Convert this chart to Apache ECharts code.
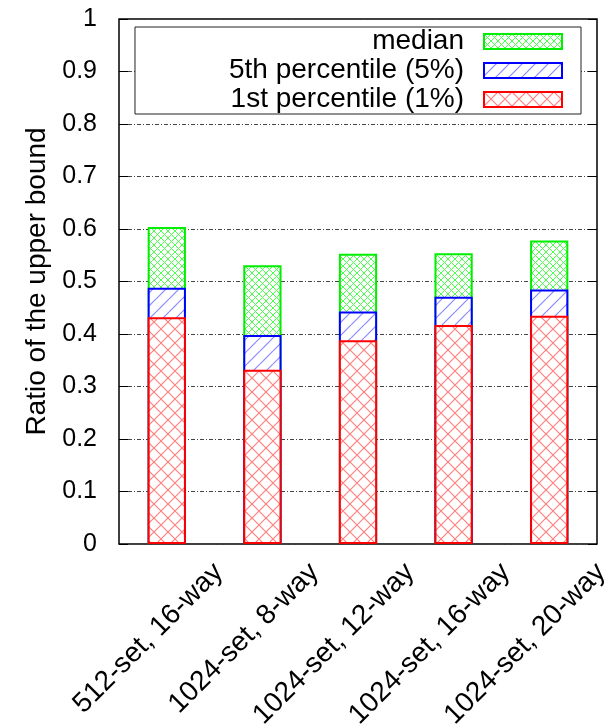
<!DOCTYPE html>
<html>
<head>
<meta charset="utf-8">
<script src="https://cdn.jsdelivr.net/npm/echarts@6/dist/echarts.min.js"></script>
<style>
  html, body { margin: 0; padding: 0; background: #fff; }
  #chart { width: 612px; height: 728px; }
</style>
</head>
<body>
<div id="chart"></div>
<script>
// Cache configurations on the x axis
const categories = ['512-set, 16-way', '1024-set, 8-way', '1024-set, 12-way', '1024-set, 16-way', '1024-set, 20-way'];
// Ratio of the upper bound at each statistic
const medianValues = [0.604, 0.531, 0.553, 0.554, 0.578];
const p5Values = [0.488, 0.398, 0.443, 0.471, 0.485];
const p1Values = [0.432, 0.332, 0.388, 0.417, 0.435];
const seriesNames = ['median', '5th percentile (5%)', '1st percentile (1%)'];

const FONT = "'Liberation Sans', Arial, sans-serif";

// Hatch tiles used as bar fills
function crossHatch(size, color, width) {
  const c = document.createElement('canvas');
  c.width = size; c.height = size;
  const g = c.getContext('2d');
  g.fillStyle = '#fff';
  g.fillRect(0, 0, size, size);
  g.strokeStyle = color;
  g.lineWidth = width;
  for (let k = -1; k <= 1; k++) {
    g.beginPath();
    g.moveTo(k * size, 0); g.lineTo(k * size + size, size);
    g.moveTo(k * size, size); g.lineTo(k * size + size, 0);
    g.stroke();
  }
  return { image: c, repeat: 'repeat' };
}
function slashHatch(size, color, width) {
  const c = document.createElement('canvas');
  c.width = size; c.height = size;
  const g = c.getContext('2d');
  g.fillStyle = '#fff';
  g.fillRect(0, 0, size, size);
  g.strokeStyle = color;
  g.lineWidth = width;
  for (let k = -1; k <= 1; k++) {
    g.beginPath();
    g.moveTo(k * size, size); g.lineTo(k * size + size, 0);
    g.stroke();
  }
  return { image: c, repeat: 'repeat' };
}

const greenFill = crossHatch(7, '#4cff4c', 1);
const blueFill = slashHatch(13, '#8a8aff', 1.2);
const redFill = crossHatch(14, '#ff8080', 1.2);

function barSeries(name, values, fill, border) {
  return {
    name: name,
    type: 'bar',
    xAxisIndex: 0,
    yAxisIndex: 0,
    data: values,
    barWidth: '40%',
    barGap: '-100%',
    itemStyle: { color: fill, borderColor: border, borderWidth: 2 },
    emphasis: { disabled: true },
    animation: false
  };
}

const chart = echarts.init(document.getElementById('chart'), null, { renderer: 'canvas' });
chart.setOption({
  backgroundColor: '#fff',
  animation: false,
  grid: [
    // plot area
    { left: 119, top: 19, right: 15, bottom: 184, outerBoundsMode: 'none',
      show: true, borderColor: '#000', borderWidth: 1.5, backgroundColor: 'transparent' },
    // tick-label band for the rotated category names, set right of the bar centres
    { left: 171, top: 19, width: 478, bottom: 184, outerBoundsMode: 'none', show: false }
  ],
  legend: {
    orient: 'vertical',
    align: 'right',
    right: 31, top: 27,
    padding: [0, 18, 0, 94],
    itemWidth: 78, itemHeight: 15, itemGap: 0,
    icon: 'rect',
    backgroundColor: '#fff',
    borderColor: '#222',
    borderWidth: 1,
    borderRadius: 0,
    selectedMode: false,
    itemStyle: { borderWidth: 2 },
    textStyle: { fontFamily: FONT, fontSize: 28, lineHeight: 29, color: '#000', padding: [0, 15, 0, 0] },
    data: seriesNames
  },
  xAxis: [{
    type: 'category',
    gridIndex: 0,
    data: categories,
    axisLine: { show: false },
    axisTick: { show: false },
    axisLabel: { show: false }
  }, {
    type: 'category',
    gridIndex: 1,
    data: categories,
    axisLine: { show: false },
    axisTick: { show: false },
    axisLabel: {
      rotate: 45, interval: 0, margin: 24,
      fontFamily: FONT, fontSize: 28, color: '#000'
    }
  }],
  yAxis: [{
    type: 'value',
    gridIndex: 0,
    min: 0, max: 1, interval: 0.1,
    name: 'Ratio of the upper bound',
    nameLocation: 'middle',
    nameGap: 68,
    nameTextStyle: { fontFamily: FONT, fontSize: 28, color: '#000' },
    axisLine: { show: false },
    axisTick: { show: true, inside: true, length: 9, lineStyle: { color: '#000', width: 1 } },
    axisLabel: { margin: 22, fontFamily: FONT, fontSize: 25, color: '#000' },
    splitLine: { show: true, lineStyle: { color: '#444', width: 1, type: [4, 2, 1, 2] } }
  }, {
    type: 'value',
    gridIndex: 0,
    position: 'right',
    min: 0, max: 1, interval: 0.1,
    axisLine: { show: false },
    axisTick: { show: true, inside: true, length: 9, lineStyle: { color: '#000', width: 1 } },
    axisLabel: { show: false },
    splitLine: { show: false }
  }, {
    type: 'value',
    gridIndex: 1,
    min: 0, max: 1,
    show: false
  }],
  series: [
    barSeries(seriesNames[0], medianValues, greenFill, '#00ee00'),
    barSeries(seriesNames[1], p5Values, blueFill, '#0000ff'),
    barSeries(seriesNames[2], p1Values, redFill, '#ff0000')
  ]
});
</script>
</body>
</html>
